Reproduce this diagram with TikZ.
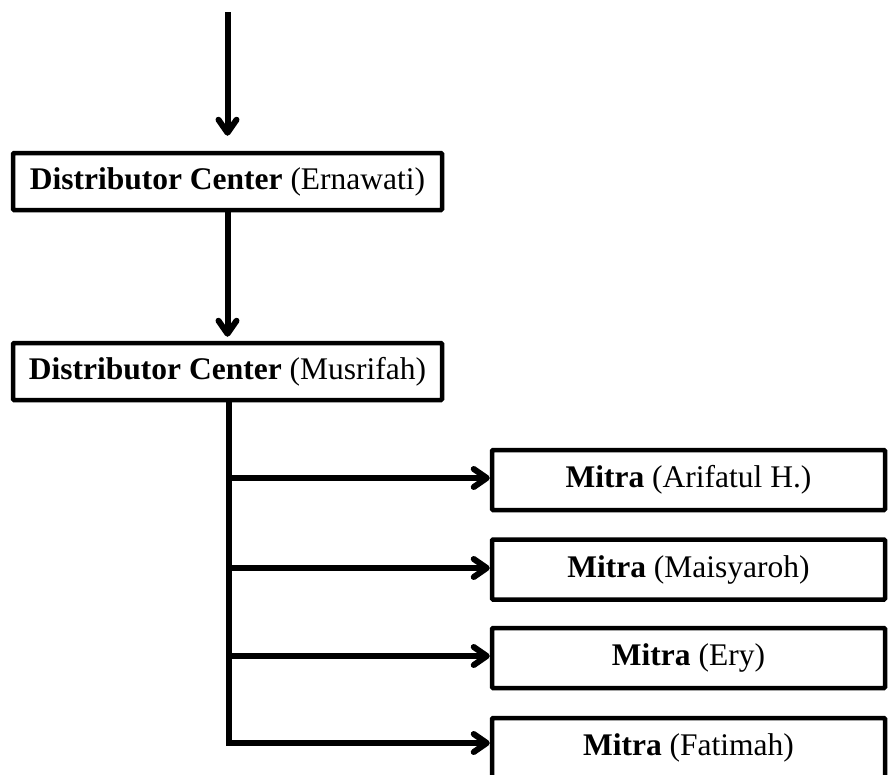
\documentclass[tikz,border=0pt]{standalone}
\usepackage{fontspec}
\setmainfont{Liberation Serif}
\usetikzlibrary{arrows.meta}
\begin{document}
\begin{tikzpicture}[x=1pt,y=-1pt,
  box/.style={draw=black,line width=4.5pt,rounded corners=1pt,inner sep=0pt,font=\fontsize{31.5}{36}\selectfont},
  conn/.style={line width=6pt,-{Straight Barb[length=13pt,width=18pt,line cap=round,line join=round]}},
  trunk/.style={line width=6pt}]
\useasboundingbox (0,0) rectangle (888,774);
\clip (0,0) rectangle (888,774);
\node[box,minimum width=429pt,minimum height=57pt] (dc1) at (227.5,181.5) {\textbf{Distributor Center} (Ernawati)};
\node[box,minimum width=429pt,minimum height=57pt] (dc2) at (227.5,371.5) {\textbf{Distributor Center} (Musrifah)};
\node[box,minimum width=393pt,minimum height=60pt] (m1) at (688.5,480) {\textbf{Mitra} (Arifatul H.)};
\node[box,minimum width=393pt,minimum height=60pt] (m2) at (688.5,569.5) {\textbf{Mitra} (Maisyaroh)};
\node[box,minimum width=393pt,minimum height=60pt] (m3) at (688.5,658) {\textbf{Mitra} (Ery)};
\node[box,minimum width=393pt,minimum height=60pt] (m4) at (688.5,748) {\textbf{Mitra} (Fatimah)};
\coordinate (top) at (227.5,12);
\coordinate (b1) at (229,478);
\coordinate (b2) at (229,568);
\coordinate (b3) at (229,656);
\coordinate (b4) at (229,743);
\draw[conn,shorten >=15pt] (top) -- (dc1.north);
\draw[conn,shorten >=4pt] (dc1.south) -- (dc2.north);
\draw[trunk,line join=miter] (dc2.south -| b4) -- (b4) -- ([xshift=-20pt]b4 -| m4.west);
\draw[conn] (b4) -- (b4 -| m4.west);
\draw[conn] (b1) -- (b1 -| m1.west);
\draw[conn] (b2) -- (b2 -| m2.west);
\draw[conn] (b3) -- (b3 -| m3.west);
\end{tikzpicture}
\end{document}
